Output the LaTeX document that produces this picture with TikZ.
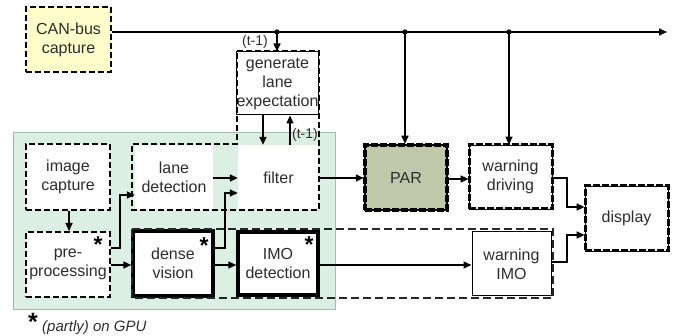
\documentclass[tikz,border=0pt]{standalone}
\usepackage{fontspec}
\setmainfont{Liberation Sans}
\usetikzlibrary{arrows.meta}
\definecolor{canyel}{RGB}{255,255,204}
\definecolor{bggreen}{RGB}{219,239,226}
\definecolor{bgedge}{RGB}{165,188,172}
\definecolor{parfill}{RGB}{192,200,170}
\definecolor{txt}{RGB}{45,45,45}
\begin{document}
\begin{tikzpicture}[x=1pt,y=-1pt,
  every node/.style={text=txt, align=center, inner sep=0pt, font=\fontsize{16}{19}\selectfont},
  dbox/.style={draw=black, fill=white, line width=2pt, dash pattern=on 6pt off 3pt},
  heavy/.style={draw=black, fill=white, line width=0.8pt, postaction={draw=black, line width=3pt, dash pattern=on 7pt off 2pt}},
  parbox/.style={draw=black, fill=parfill, line width=2.5pt, postaction={draw=black, line width=4pt, dash pattern=on 7pt off 2pt}},
  thinbox/.style={draw=black, fill=white, line width=1pt},
  solidbox/.style={draw=black, fill=white, line width=3.5pt},
  plainbox/.style={fill=white},
  grpa/.style={draw=black, line width=2pt, dash pattern=on 6pt off 3pt},
  grpb/.style={draw=black!85, line width=1.6pt, dash pattern=on 8pt off 4pt},
  conn/.style={draw=black, line width=1.5pt, -{Triangle[length=8pt,width=7pt]}},
  gpustar/.style={anchor=north, font=\bfseries\fontsize{23}{23}\selectfont, text=black},
  tlab/.style={font=\fontsize{14}{16}\selectfont}]
\useasboundingbox (0,0) rectangle (677,336);

% green background
\node[fill=bggreen, draw=bgedge, line width=0.8pt, minimum width=322pt, minimum height=177pt] (bg) at (174,220.5) {};

% boxes
\node[dbox, fill=canyel, minimum width=85pt, minimum height=65pt] (can) at (68.5,39.5) {CAN-bus\\capture};
\node[dbox, minimum width=84pt, minimum height=66pt] (img) at (68,177) {image\\capture};
\node[dbox, minimum width=84pt, minimum height=65pt] (pre) at (68,264.5) {pre-\\processing};
\node[plainbox, minimum width=78pt, minimum height=65pt] (lane) at (174,177.5) {lane\\detection};
\node[plainbox, minimum width=81pt, minimum height=65pt] (filter) at (278.5,177.5) {filter};
\node[thinbox, minimum width=81pt, minimum height=63pt] (gen) at (277.5,83.5) {generate\\lane\\expectation};
\node[solidbox, minimum width=80pt, minimum height=65pt] (dense) at (173,263.5) {dense\\vision};
\node[solidbox, minimum width=80pt, minimum height=63pt] (imo) at (278,263.5) {IMO\\detection};
\node[parbox, minimum width=82pt, minimum height=65pt] (par) at (406,177.5) {PAR};
\node[heavy, minimum width=83pt, minimum height=64pt] (wdrv) at (510.5,177) {warning\\driving};
\node[thinbox, minimum width=79pt, minimum height=64pt] (wimo) at (511.5,264) {warning\\IMO};
\node[heavy, minimum width=83pt, minimum height=65pt] (disp) at (626.5,218.5) {display};

% dashed groups
\draw[grpa] (237,51) -- (319,51) -- (319,210) -- (132,210) -- (132,144) -- (237,144) -- cycle;
\draw[grpb] (132,229) rectangle (553,298);

% stars
\node[gpustar] (s1) at (98,236) {*};
\node[gpustar] (s2) at (204,237) {*};
\node[gpustar] (s3) at (309,236) {*};

% bus
\coordinate (bus) at (667,32);
\coordinate (j1) at (277,32);
\coordinate (j2) at (405,32);
\coordinate (j3) at (509,32);
\draw[conn] (can.east |- bus) -- (bus);
\fill (j1) circle (2.6pt);
\fill (j2) circle (2.6pt);
\fill (j3) circle (2.6pt);
\draw[conn] (j1) -- (j1 |- gen.north);
\draw[conn] (j2) -- (j2 |- par.north);
\draw[conn] (j3) -- (j3 |- wdrv.north);
\node[tlab] (t1) at (255,42) {(t-1)};

% connectors
\draw[conn] (img.south -| 69,0) -- (pre.north -| 69,0);
\draw[conn] (pre.east |- 0,248) -| (120,195) -- (lane.west |- 0,195);
\draw[conn] (pre.east |- 0,265) -- (dense.west |- 0,265);
\draw[conn] (lane.east |- 0,178) -- (filter.west |- 0,178);
\draw[conn] (dense.east |- 0,248) -| (225,193) -- (filter.west |- 0,193);
\draw[conn] (gen.south -| 263,0) -- (filter.north -| 263,0);
\draw[conn] (filter.north -| 290,0) -- (gen.south -| 290,0);
\node[tlab] (t2) at (305,135) {(t-1)};
\draw[conn] (dense.east |- 0,265) -- (imo.west |- 0,265);
\draw[conn] (filter.east |- 0,178) -- (par.west |- 0,178);
\draw[conn] (imo.east |- 0,265) -- (wimo.west |- 0,265);
\draw[conn] (par.east |- 0,179) -- (wdrv.west |- 0,179);
\draw[conn] (wdrv.east |- 0,178) -| (567,207) -- (disp.west |- 0,207);
\draw[conn] (wimo.east |- 0,262) -| (567,235) -- (disp.west |- 0,235);

% legend
\node[gpustar, font=\bfseries\fontsize{25}{25}\selectfont] (ls) at (33,313) {*};
\node[anchor=base west, font=\itshape\fontsize{15}{17}\selectfont] (lt) at (42,332) {(partly) on GPU};
\end{tikzpicture}
\end{document}
